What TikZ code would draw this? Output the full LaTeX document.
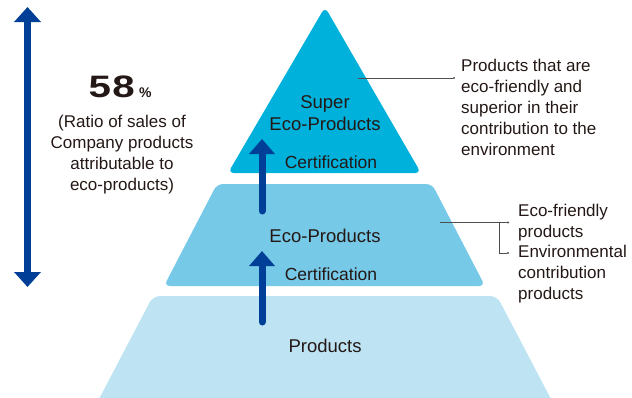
\documentclass[tikz,border=0pt]{standalone}
\usepackage{fontspec}
\setmainfont{Liberation Sans}
\usetikzlibrary{arrows.meta}
\definecolor{tiertop}{HTML}{00B1DB}
\definecolor{tiermid}{HTML}{77C9E8}
\definecolor{tierbase}{HTML}{BEE4F4}
\definecolor{navy}{HTML}{003F98}
\definecolor{ink}{HTML}{231815}
\definecolor{leader}{HTML}{4D4D4D}
\begin{document}
\begin{tikzpicture}[x=1pt,y=-1pt,
  txt/.style={text=ink,font=\fontsize{17}{20.8}\selectfont,inner sep=0pt,anchor=base},
  tiername/.style={txt,font=\fontsize{18.5}{22}\selectfont},
  certtxt/.style={txt,font=\fontsize{17.5}{21}\selectfont},
  rise/.style={navy,line width=7pt,line cap=round,-{Triangle[width=25pt,length=15pt]}},
  span/.style={navy,line width=6.5pt,{Triangle[width=26pt,length=15pt]}-{Triangle[width=26pt,length=15pt]}},
  leaderline/.style={leader,line width=0.8pt},
  enddot/.style={circle,fill=leader,inner sep=0pt,minimum size=2.4pt}]
\useasboundingbox (0,0) rectangle (632,397);

% three tiers of the pyramid
\fill[tierbase,rounded corners=7pt] (88,420) -- (153,296) -- (497,296) -- (562,420) -- cycle;
\fill[tiermid,rounded corners=6pt] (164,286) -- (217,184) -- (432,184) -- (485,286) -- cycle;
\fill[tiertop,rounded corners=6pt] (325,7) -- (421,173) -- (228,173) -- cycle;

% tier labels (multi-line nodes sit on the baseline of their last line)
\node[tiername,align=center] (super) at (325,130) {Super\\Eco-Products};
\node[certtxt] (cert1) at (331,168) {Certification};
\node[tiername] (eco) at (325,242) {Eco-Products};
\node[certtxt] (cert2) at (331,280) {Certification};
\node[tiername] (prod) at (325,352) {Products};

% certification arrows
\coordinate (r1a) at (262,211);
\coordinate (r1b) at (262,139);
\coordinate (r2a) at (262,322);
\coordinate (r2b) at (262,251);
\draw[rise] (r1a) -- (r1b);
\draw[rise] (r2a) -- (r2b);

% share of sales on the left
\coordinate (sp1) at (27.5,7);
\coordinate (sp2) at (27.5,287);
\draw[span] (sp1) -- (sp2);
\node[txt,anchor=base east,font=\bfseries\fontsize{31}{31}\selectfont] (pct) at (135,97) {\scalebox{1.3}[1]{5\kern1pt 8}};
\node[txt,anchor=base west,font=\bfseries\fontsize{14}{14}\selectfont] (pcts) at (139,97) {\%};
\node[txt,align=center] (ratio) at (122,190) {(Ratio of sales of\\Company products\\attributable to\\eco-products)};

% descriptions on the right
\node[txt,anchor=base west,align=left] (dsuper) at (461,155) {Products that are\\eco-friendly and\\superior in their\\contribution to the\\environment};
\node[txt,anchor=base west,align=left] (dfriend) at (518,237) {Eco-friendly\\products};
\node[txt,anchor=base west,align=left] (denv) at (518,299) {Environmental\\contribution\\products};

% leader lines
\coordinate (l1a) at (358,78);
\node[enddot] (l1b) at (454,78) {};
\draw[leaderline] (l1a) -- (l1b);
\coordinate (l2a) at (440,222.5);
\coordinate (l2k) at (499,222.5);
\node[enddot] (l2b) at (508,222.5) {};
\node[enddot] (l3b) at (508,253) {};
\draw[leaderline] (l2a) -- (l2b);
\draw[leaderline] (l2k) |- (l3b);
\end{tikzpicture}
\end{document}
